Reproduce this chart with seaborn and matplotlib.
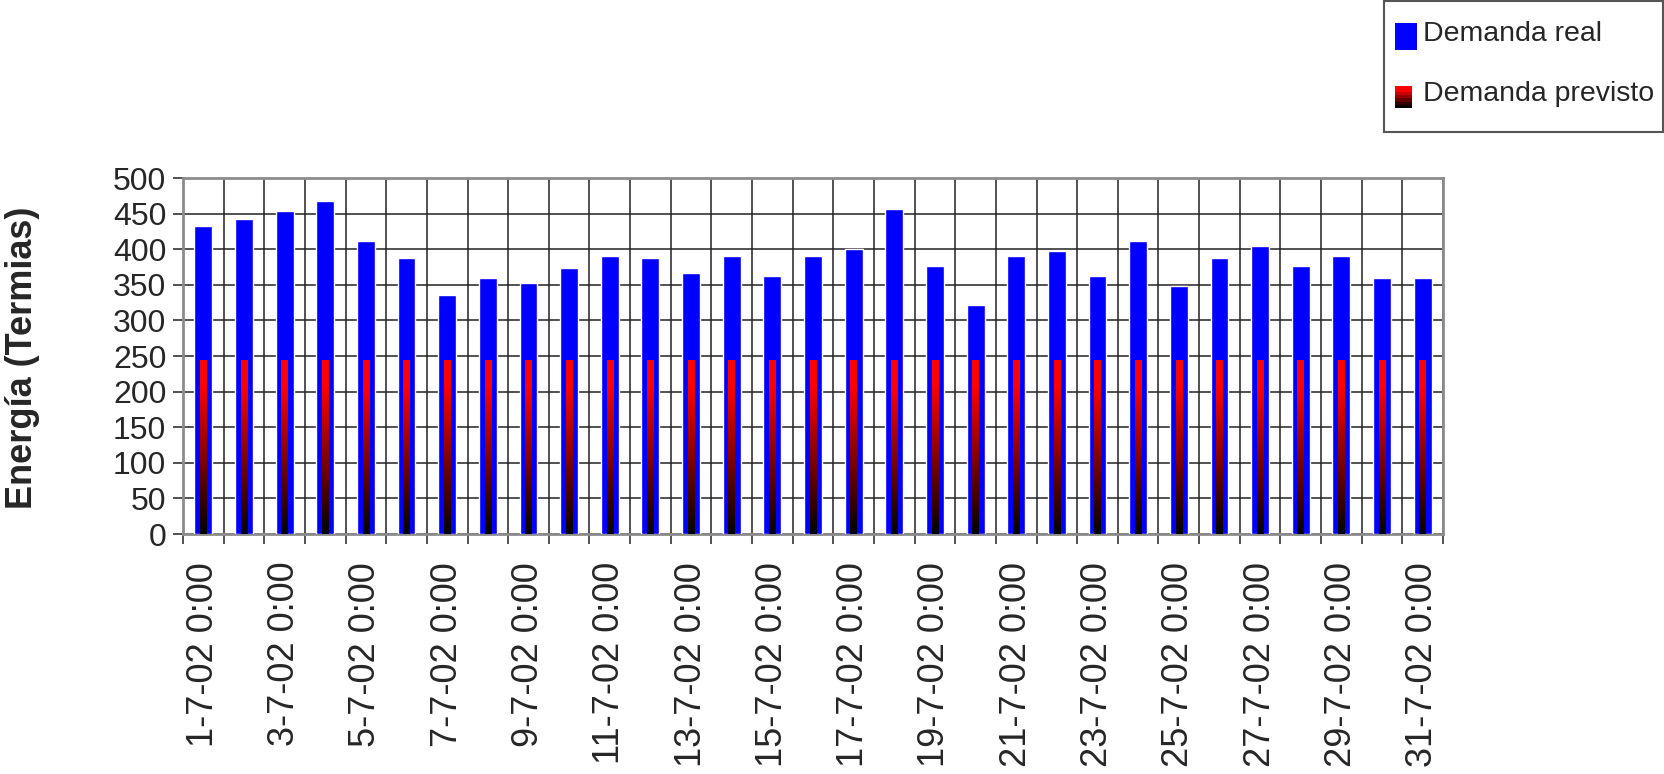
import matplotlib
matplotlib.use("Agg")
import matplotlib.pyplot as plt
import seaborn as sns
import numpy as np
import pandas as pd
from matplotlib.colors import LinearSegmentedColormap
from matplotlib.legend_handler import HandlerBase
from matplotlib.patches import Rectangle, Patch

# Datos (julio 2002)
dias = [f"{d}-7-02 0:00" for d in range(1, 32)]
demanda_real = [433, 443, 453, 467, 411, 387, 335, 359, 353, 373, 391, 387, 367, 391, 363, 391,
                400, 457, 377, 321, 391, 397, 363, 411, 349, 387, 405, 377, 391, 359, 359]
demanda_prevista = [245, 245, 245, 245, 245, 245, 245, 245, 245, 245, 245, 245, 245, 245, 245, 245,
                    245, 245, 245, 245, 245, 245, 245, 245, 245, 245, 245, 245, 245, 245, 245]
yticks = list(range(0, 501, 50))

df = pd.DataFrame({"dia": dias, "real": demanda_real, "previsto": demanda_prevista})

sns.set_theme(style="white")
plt.rcParams["font.family"] = ["Liberation Sans", "DejaVu Sans"]

rojo_negro = LinearSegmentedColormap.from_list("rn", [(0, "black"), (0.85, "red"), (1, "red")])

W, H = 1665, 774
fig = plt.figure(figsize=(W / 100, H / 100), dpi=100)
ax = fig.add_axes([183 / W, 1 - 534 / H, 1260 / W, 356 / H])

sns.barplot(data=df, x="dia", y="real", color="#0000ff", saturation=1, width=0.44, ax=ax, zorder=3)
sns.barplot(data=df, x="dia", y="previsto", color="red", saturation=1, width=0.16, ax=ax, zorder=4)

# degradado rojo -> negro en las barras de demanda prevista
grad = np.linspace(0, 1, 256).reshape(-1, 1)
for bar in ax.containers[1]:
    x0, y0 = bar.get_x(), bar.get_y()
    w, h = bar.get_width(), bar.get_height()
    bar.set_facecolor("none")
    bar.set_edgecolor("none")
    im = ax.imshow(grad, cmap=rojo_negro, origin="lower", aspect="auto",
                   extent=(x0, x0 + w, y0, y0 + h), zorder=5)
    im.set_clip_path(bar)

n = len(dias)
ax.set_xlim(-0.5, n - 0.5)
ax.set_ylim(0, 500)
ax.set_yticks(yticks)
ax.set_yticklabels([str(v) for v in yticks], fontsize=23)
ax.set_xticks(range(0, n, 2))
ax.set_xticklabels(dias[::2], rotation=90, fontsize=26)
ax.set_xticks(np.arange(-0.5, n, 1), minor=True)
ax.tick_params(axis="x", which="major", length=0, pad=20)
ax.tick_params(axis="x", which="minor", length=7, width=1.2, color="#333333", bottom=True)
ax.tick_params(axis="y", length=7, width=1.2, color="#333333", pad=5, left=True)

ax.grid(False)
ax.grid(True, axis="y", which="major", color="#222222", linewidth=1.1, zorder=0)
ax.grid(True, axis="x", which="minor", color="#222222", linewidth=1.1, zorder=0)
ax.set_axisbelow(True)

for s in ax.spines.values():
    s.set_color("#8c8c8c")
    s.set_linewidth(2)

ax.set_xlabel("")
ax.set_ylabel("")
fig.text(23 / W, 1 - 358 / H, "Energía (Termias)", rotation=90, ha="center", va="center",
         fontsize=26, fontweight="bold")


class HandlerCuadro(HandlerBase):
    def __init__(self, wpx, hpx, degradado=False):
        super().__init__()
        self.wpx, self.hpx, self.degradado = wpx, hpx, degradado

    def create_artists(self, legend, orig_handle, xdescent, ydescent, width, height, fontsize, trans):
        w, h = self.wpx * 0.72, self.hpx * 0.72
        x = -xdescent
        y = -ydescent + (height - h) / 2 - 4
        if not self.degradado:
            return [Rectangle((x, y), w, h, facecolor=orig_handle.get_facecolor(),
                              edgecolor="none", transform=trans)]
        pasos = 7
        arts = []
        for i in range(pasos):
            c = rojo_negro(1 - i / (pasos - 1))
            arts.append(Rectangle((x, y + h * (pasos - 1 - i) / pasos), w, h / pasos,
                                  facecolor=c, edgecolor="none", transform=trans))
        return arts


h_real = Patch(facecolor="#0000ff", edgecolor="none")
h_prev = Patch(facecolor="red", edgecolor="none")
leg = fig.legend([h_real, h_prev], ["Demanda real", "Demanda previsto"],
                 loc="upper left", bbox_to_anchor=(1395 / W, 1 - 19 / H), fontsize=20.5,
                 frameon=False, handlelength=0.78, handleheight=0.95,
                 handletextpad=0.2, labelspacing=1.12, borderpad=0, borderaxespad=0,
                 handler_map={h_real: HandlerCuadro(22, 27),
                              h_prev: HandlerCuadro(17, 22, degradado=True)})
fig.patches.append(Rectangle((1384 / W, 1 - 132 / H), 279 / W, 131 / H, transform=fig.transFigure,
                             facecolor="none", edgecolor="#555555", linewidth=1.5))

fig.savefig("out.png", dpi=100)
